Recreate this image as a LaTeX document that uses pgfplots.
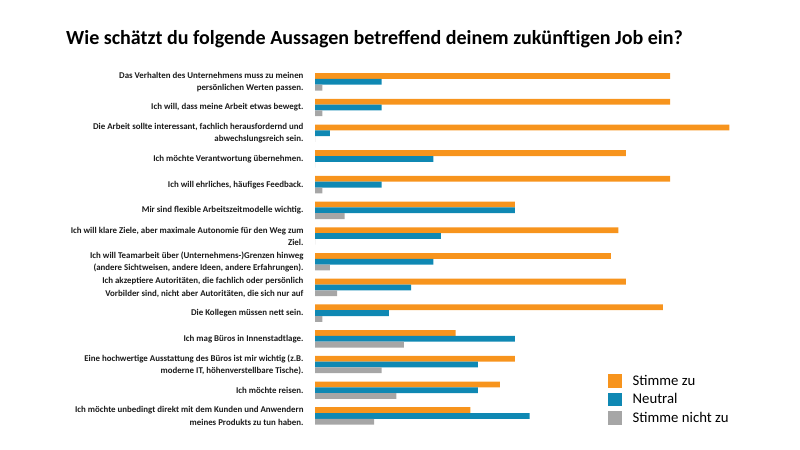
\documentclass[border=0pt]{standalone}
\usepackage{pgfplots}
\pgfplotsset{compat=1.18}
\usepackage{pgfplotstable}
\usepackage{fontspec}
\setmainfont{Carlito}

\definecolor{zu}{HTML}{F7941D}
\definecolor{neutral}{HTML}{0F88B3}
\definecolor{nicht}{HTML}{A6A6A6}
\definecolor{labeltext}{HTML}{1A1A1A}

% number of answers per statement (row 13 = first statement, row 0 = last)
\pgfplotstableread{
y  zu neutral nicht
13 48  9  1
12 48  9  1
11 56  2  0
10 42 16  0
9  48  9  1
8  27 27  4
7  41 17  0
6  40 16  2
5  42 13  3
4  47 10  1
3  19 27 12
2  27 22  9
1  25 22 11
0  21 29  8
}\umfrage

\begin{document}
\begin{tikzpicture}
\useasboundingbox (0,0) rectangle (800bp,450bp);
\node[font=\bfseries\fontsize{20.1}{24}\selectfont, anchor=center]
  at (374.5bp,411bp) {Wie schätzt du folgende Aussagen betreffend deinem zukünftigen Job ein?};
\begin{axis}[
  at={(315bp,21.2bp)}, anchor=south west,
  scale only axis, width=420bp, height=359.8bp,
  xbar, bar width=5.8bp,
  xmin=0, xmax=56.76, ymin=-0.5, ymax=13.5,
  axis line style={draw=none},
  xtick=\empty, major tick length=0pt,
  ytick={0,...,13},
  yticklabels={
    {Ich möchte unbedingt direkt mit dem Kunden und Anwendern\\meines Produkts zu tun haben.},
    {Ich möchte reisen.},
    {Eine hochwertige Ausstattung des Büros ist mir wichtig (z.B.\\moderne IT, höhenverstellbare Tische).},
    {Ich mag Büros in Innenstadtlage.},
    {Die Kollegen müssen nett sein.},
    {Ich akzeptiere Autoritäten, die fachlich oder persönlich\\Vorbilder sind, nicht aber Autoritäten, die sich nur auf},
    {Ich will Teamarbeit über (Unternehmens-)Grenzen hinweg\\(andere Sichtweisen, andere Ideen, andere Erfahrungen).},
    {Ich will klare Ziele, aber maximale Autonomie für den Weg zum\\Ziel.},
    {Mir sind flexible Arbeitszeitmodelle wichtig.},
    {Ich will ehrliches, häufiges Feedback.},
    {Ich möchte Verantwortung übernehmen.},
    {Die Arbeit sollte interessant, fachlich herausfordernd und\\abwechslungsreich sein.},
    {Ich will, dass meine Arbeit etwas bewegt.},
    {Das Verhalten des Unternehmens muss zu meinen\\persönlichen Werten passen.}
  },
  yticklabel style={align=right, text=labeltext,
    font=\bfseries\fontsize{8.9}{12.2}\selectfont, xshift=-8bp},
  legend style={at={(axis description cs:0.6976,0.155)}, anchor=north west,
    draw=none, fill=none, inner sep=0pt,
    font=\fontsize{14.8}{17}\selectfont, row sep=2.8bp,
    /tikz/every odd column/.append style={column sep=9bp}},
  legend cell align=left,
  legend image code/.code={\fill[#1] (0bp,-6.8bp) rectangle (13.5bp,6.8bp);},
  every axis plot/.append style={draw=none},
]
\addplot[fill=zu, bar shift=5.8bp] table[x=zu, y=y] {\umfrage};
\addplot[fill=neutral, bar shift=0bp] table[x=neutral, y=y] {\umfrage};
\addplot[fill=nicht, bar shift=-5.8bp] table[x=nicht, y=y] {\umfrage};
\legend{Stimme zu, Neutral, Stimme nicht zu}
\end{axis}
\end{tikzpicture}
\end{document}
